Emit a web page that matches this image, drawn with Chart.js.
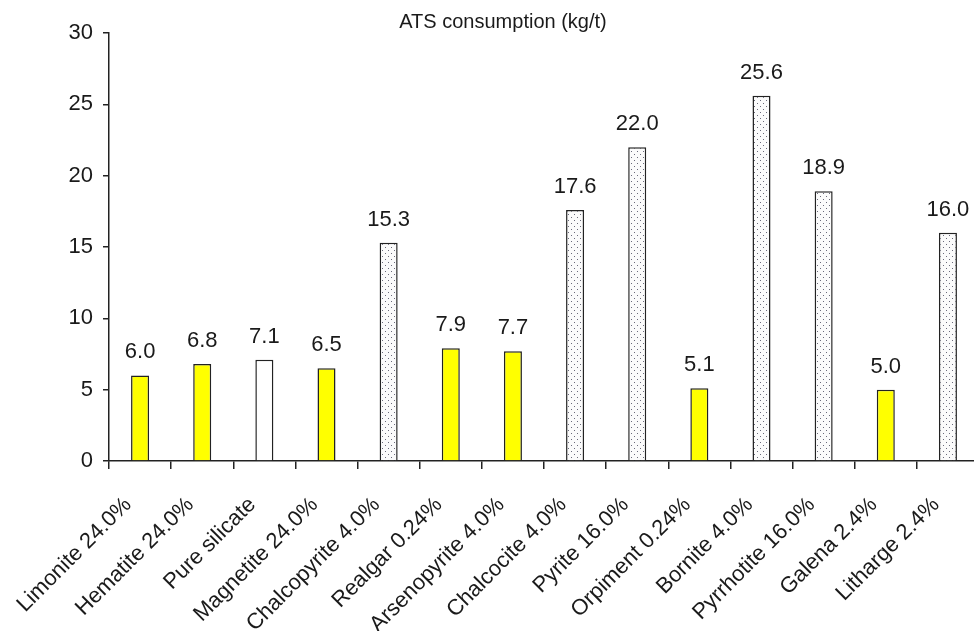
<!DOCTYPE html>
<html>
<head>
<meta charset="utf-8">
<script src="https://cdn.jsdelivr.net/npm/chart.js@4"></script>
<style>
  html, body { margin: 0; padding: 0; background: #fff; overflow: hidden; }
  /* slightly wider than the window: the original crop cuts the plot's right end */
  #wrap { width: 979px; height: 631px; }
</style>
</head>
<body>
<div id="wrap"><canvas id="atsChart"></canvas></div>
<script>
const minerals = ["Limonite 24.0%", "Hematite 24.0%", "Pure silicate", "Magnetite 24.0%",
    "Chalcopyrite 4.0%", "Realgar 0.24%", "Arsenopyrite 4.0%", "Chalcocite 4.0%",
    "Pyrite 16.0%", "Orpiment 0.24%", "Bornite 4.0%", "Pyrrhotite 16.0%",
    "Galena 2.4%", "Litharge 2.4%"];
const consumption = [6.0, 6.8, 7.1, 6.5, 15.3, 7.9, 7.7, 17.6, 22.0, 5.1, 25.6, 18.9, 5.0, 16.0];
// y = oxide (yellow), w = plain silicate (white), s = sulphide (dotted)
const mineralType = ["y", "y", "w", "y", "s", "y", "y", "s", "s", "y", "s", "s", "y", "s"];
const yTicks = [0, 5, 10, 15, 20, 25, 30];
const chartTitle = "ATS consumption (kg/t)";

const FONT = "'Liberation Sans', Arial, sans-serif";

// dotted fill for the sulphide bars
const makeDots = () => {
    const c = document.createElement("canvas");
    c.width = 6; c.height = 6;
    const g = c.getContext("2d");
    g.fillStyle = "#fbfbfb";
    g.fillRect(0, 0, 6, 6);
    g.fillStyle = "#6a6a7a";
    g.fillRect(1, 1, 1, 1);
    g.fillRect(4, 4, 1, 1);
    return g.createPattern(c, "repeat");
};
const dots = makeDots();

const fills = mineralType.map(t => t === "y" ? "#ffff00" : t === "w" ? "#ffffff" : dots);

const valueLabels = {
    id: "valueLabels",
    afterDatasetsDraw(chart) {
        const ctx = chart.ctx;
        const meta = chart.getDatasetMeta(0);
        ctx.save();
        ctx.font = "22px " + FONT;
        ctx.fillStyle = "#1a1a1a";
        ctx.textAlign = "center";
        ctx.textBaseline = "alphabetic";
        meta.data.forEach((bar, i) => {
            ctx.fillText(consumption[i].toFixed(1), bar.x, bar.y - 17);
        });
        // title sits a little right of the page centre
        ctx.font = "20px " + FONT;
        ctx.textBaseline = "middle";
        ctx.fillText(chartTitle, 503, 22);
        ctx.restore();
    }
};

new Chart(document.getElementById("atsChart"), {
    type: "bar",
    data: {
        labels: minerals,
        datasets: [{
            label: chartTitle,
            data: consumption,
            backgroundColor: fills,
            borderColor: "#222",
            borderWidth: 1.5,
            barPercentage: 0.29,
            categoryPercentage: 1
        }]
    },
    options: {
        responsive: true,
        maintainAspectRatio: false,
        animation: false,
        layout: { padding: { top: 33, right: 0 } },
        plugins: {
            legend: { display: false },
            tooltip: { enabled: false }
        },
        scales: {
            x: {
                border: { color: "#222", width: 1.5 },
                grid: { offset: true, drawOnChartArea: false, color: "#222", tickLength: 8, lineWidth: 1.5 },
                ticks: {
                    autoSkip: false,
                    minRotation: 45,
                    maxRotation: 45,
                    padding: 23,
                    labelOffset: -12,
                    color: "#1a1a1a",
                    font: { family: FONT, size: 22 }
                },
                afterFit: s => { s.height = 170; s.paddingLeft = 0; s.paddingRight = 0; }
            },
            y: {
                min: 0,
                max: 30,
                afterBuildTicks: s => { s.ticks = yTicks.map(v => ({ value: v })); },
                border: { color: "#222", width: 1.5 },
                grid: { drawOnChartArea: false, color: "#222", tickLength: 6, lineWidth: 1.5 },
                ticks: {
                    padding: 10,
                    color: "#1a1a1a",
                    font: { family: FONT, size: 22 }
                },
                afterFit: s => { s.width = 109; }
            }
        }
    },
    plugins: [valueLabels]
});
</script>
</body>
</html>
